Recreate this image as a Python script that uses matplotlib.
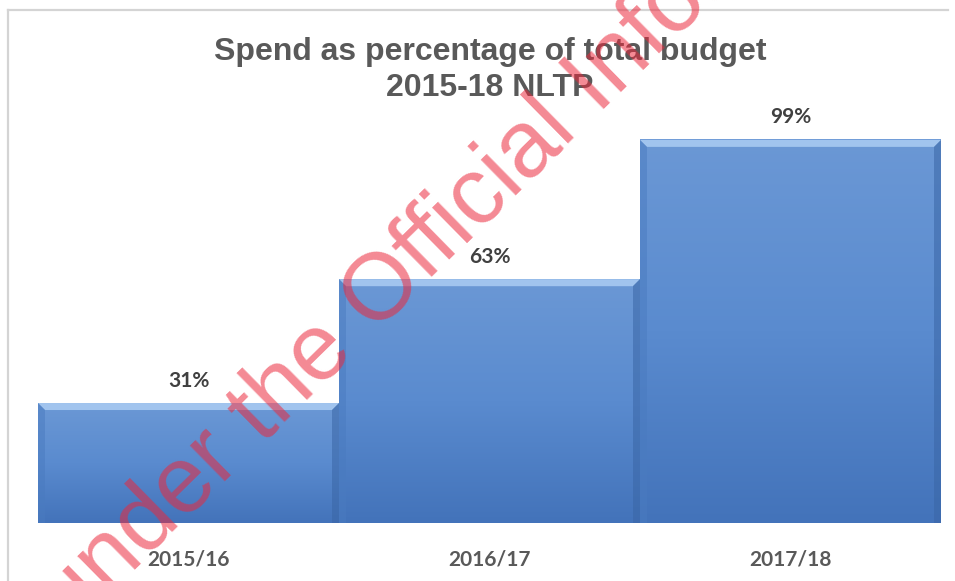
import numpy as np
import matplotlib.pyplot as plt
from matplotlib.colors import LinearSegmentedColormap
from matplotlib.patches import Polygon
from matplotlib.lines import Line2D

years = ["2015/16", "2016/17", "2017/18"]
spend_pct = [31, 63, 99]
pct_labels = ["31%", "63%", "99%"]

title = "Spend as percentage of total budget\n2015-18 NLTP"
watermark = "Released under the Official Information Act"

fig = plt.figure(figsize=(9.55, 5.81), dpi=100)
fig.patch.set_facecolor("white")

# light grey chart frame: top and left edges only are visible
fx0, fx1, fy = 8 / 955, 948 / 955, 1 - 10 / 581
fig.add_artist(Line2D([fx0, fx1], [fy, fy], color="#D4D4D4", lw=1.6))
fig.add_artist(Line2D([fx0, fx0], [fy, 0], color="#D4D4D4", lw=1.6))

ax = fig.add_axes([38 / 955, 58 / 581, 903 / 955, 387 / 581])

bars = ax.bar(range(len(years)), spend_pct, width=1.0, color="none", zorder=1)

cmap = LinearSegmentedColormap.from_list("bar", ["#4373BA", "#5A8BCF", "#6B98D5"])
grad = np.linspace(0, 1, 256).reshape(-1, 1)
px_y = 387 / 100   # pixels per percent
px_x = 903 / 3     # pixels per bar
for b in bars:
    x0, w, h = b.get_x(), b.get_width(), b.get_height()
    ax.imshow(grad, extent=(x0, x0 + w, 0, h), origin="lower", cmap=cmap,
              aspect="auto", zorder=2)
    bx = 7 / px_x
    by = 7 / px_y
    # top bevel
    ax.add_patch(Polygon([(x0, h), (x0 + w, h), (x0 + w - bx, h - by), (x0 + bx, h - by)],
                         closed=True, facecolor="#A8CAF1", edgecolor="none", alpha=0.9, zorder=3))
    # right bevel
    ax.add_patch(Polygon([(x0 + w, h), (x0 + w, 0), (x0 + w - bx, 0), (x0 + w - bx, h - by)],
                         closed=True, facecolor="#3A66A6", edgecolor="none", alpha=0.55, zorder=3))
    # left bevel
    ax.add_patch(Polygon([(x0, h), (x0, 0), (x0 + bx, 0), (x0 + bx, h - by)],
                         closed=True, facecolor="#4A7BC0", edgecolor="none", alpha=0.5, zorder=3))

ax.bar_label(bars, labels=pct_labels, padding=9, fontsize=15, fontweight="bold",
             color="#404040", family="Lato", zorder=4)

ax.set_xlim(-0.5, len(years) - 0.5)
ax.set_ylim(0, 100)
ax.set_xticks(range(len(years)), years)
ax.tick_params(axis="x", length=0, pad=19, labelsize=15, labelcolor="#595959")
for lab in ax.get_xticklabels():
    lab.set_fontweight("bold")
    lab.set_family("Lato")
ax.set_yticks([])
for s in ax.spines.values():
    s.set_visible(False)
ax.patch.set_alpha(0)

fig.text(490 / 955, 1 - 70 / 581, title, ha="center", va="center", fontsize=23,
         fontweight="bold", color="#595959", family="Liberation Sans", linespacing=1.25)

fig.text(390 / 955, 1 - 285 / 581, watermark, rotation=44.5, rotation_mode="anchor",
         ha="center", va="center", fontsize=68, color="#EB283C", alpha=0.55,
         family="Liberation Sans", zorder=10)

fig.savefig("out.png", dpi=100)
